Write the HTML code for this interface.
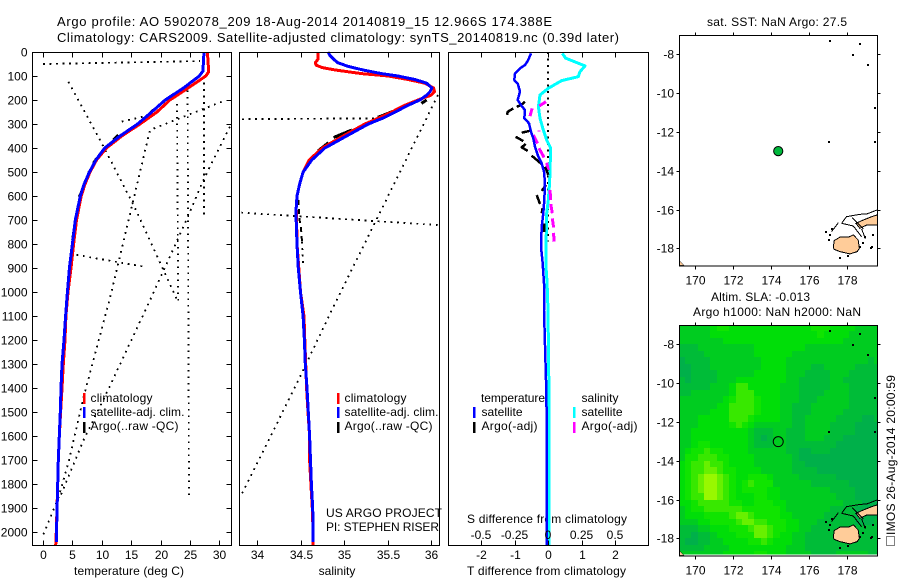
<!DOCTYPE html>
<html lang="en">
<head>
<meta charset="utf-8">
<title>Argo profile 5902078_209</title>
<style>
html,body{margin:0;padding:0;background:#fff;}
svg{display:block;}
text{font-family:"Liberation Sans",Arial,sans-serif;font-size:12px;fill:#000;}
.title{font-size:13px;}
</style>
</head>
<body>
<svg id="chart" width="900" height="580" viewBox="0 0 900 580" xmlns="http://www.w3.org/2000/svg">
<defs>
<clipPath id="clip-map-bottom"><rect x="679.5" y="325.5" width="198" height="229"/></clipPath>
</defs>
<text class="title" x="57" y="26" textLength="495">Argo profile: AO 5902078_209 18-Aug-2014 20140819_15 12.966S 174.388E</text>
<text class="title" x="57" y="42" textLength="562">Climatology: CARS2009. Satellite-adjusted climatology: synTS_20140819.nc (0.39d later)</text>

<text x="74" y="575" textLength="110">temperature (deg C)</text>
<text x="337" y="575" text-anchor="middle">salinity</text>
<text x="467" y="575" textLength="159">T difference from climatology</text>
<text x="467" y="523" textLength="160">S difference from climatology</text>

<text x="326" y="517" textLength="116">US ARGO PROJECT</text>
<text x="326" y="531" textLength="113">PI: STEPHEN RISER</text>

<text x="90.5" y="402" textLength="62">climatology</text>
<text x="90.5" y="416" textLength="94">satellite-adj. clim.</text>
<text x="90.5" y="430" textLength="88">Argo(..raw -QC)</text>
<text x="344.5" y="402" textLength="62">climatology</text>
<text x="344.5" y="416" textLength="94">satellite-adj. clim.</text>
<text x="344.5" y="430" textLength="88">Argo(..raw -QC)</text>

<text x="481" y="402" textLength="64">temperature</text>
<text x="481.5" y="416" textLength="41">satellite</text>
<text x="481.5" y="430" textLength="56">Argo(-adj)</text>
<text x="581.5" y="402" textLength="37">salinity</text>
<text x="581.5" y="416" textLength="41">satellite</text>
<text x="581.5" y="430" textLength="56">Argo(-adj)</text>

<text x="707" y="26" textLength="140">sat. SST: NaN Argo: 27.5</text>
<text x="711" y="301" textLength="99">Altim. SLA: -0.013</text>
<text x="693" y="316" textLength="168">Argo h1000: NaN h2000: NaN</text>

<rect x="886.5" y="536.5" width="8" height="9" fill="none" stroke="#000" stroke-width="1" stroke-dasharray="1 1" shape-rendering="crispEdges"/>
<text transform="translate(895,535) rotate(-90)" x="0" y="0" textLength="160">IMOS 26-Aug-2014 20:00:59</text>
</svg>

<script>
// ---------- depth axis ----------
const depthTicks = [0,100,200,300,400,500,600,700,800,900,1000,1100,1200,1300,1400,1500,1600,1700,1800,1900,2000];

// ---------- temperature panel ----------
const tempTicks = [0,5,10,15,20,25,30];
const climTempDepth = [0,82,100,150,200,250,300,350,400,450,500,550,600,700,800,900,1000,1100,1200,1300,1400,1500,1600,1700,1800,1900,2000,2054];
const climTempValue = [27.97,28.2,27.7,24.7,21.6,19.4,16.5,13.4,10.8,9.1,8.0,7.15,6.5,5.7,5.2,4.76,4.25,3.9,3.75,3.46,3.23,3.0,2.78,2.6,2.5,2.38,2.27,2.16];
const satTempDepth = [0,80,100,150,200,250,300,350,400,450,500,550,600,700,800,900,1000,1100,1200,1300,1400,1500,1600,1700,1800,1900,2000,2040];
const satTempValue = [27.4,27.2,26.6,23.9,20.8,18.5,16.1,13.1,10.5,9.0,7.9,7.0,6.35,5.5,5.0,4.5,4.15,3.85,3.57,3.23,3.06,2.95,2.78,2.6,2.5,2.4,2.3,2.3];
const argoTempDepth = [241,269,null,346,367,null,394,429,null,443,464,null,499,547,null,582,603,null,742,783];
const argoTempValue = [18.8,17.64,null,12.8,12.0,null,10.8,9.7,null,9.14,8.56,null,7.88,7.15,null,6.58,6.18,null,5.27,5.05];
const rawTempDepth = [50,38,null,100,690,null,207,325,1025,1436,1712,1858,2025,null,311,533,700,1019,1421,1616,1853,null,124,394,637,1026,1040,200,null,160,1858,null,845,894,null,290,270];
const rawTempValue = [0,26.7,null,27.4,27.4,null,30.4,18.2,11.4,6.9,4.3,2.6,-0.2,null,31.8,27.3,24.4,18.5,10.8,6.9,2.9,null,4.3,10.3,15.4,22.7,23,22.8,null,24.6,24.85,null,5.7,17.1,null,13.4,17];

// ---------- salinity panel ----------
const salTicks = [34,34.5,35,35.5,36];
const climSalDepth = [0,30,45,55,65,75,90,100,115,130,150,165,180,200,225,250,275,300,330,350,400,450,500,550,600,650,700,800,900,1000,1100,1200,1300,1400,1500,1600,1700,1800,1900,2000,2054];
const climSalValue = [34.705,34.7,34.67,34.68,34.75,34.9,35.2,35.51,35.74,35.93,36.03,36.04,36.0,35.85,35.68,35.55,35.4,35.24,35.09,34.99,34.75,34.6,34.53,34.49,34.46,34.45,34.455,34.46,34.48,34.5,34.54,34.55,34.56,34.57,34.586,34.605,34.605,34.62,34.636,34.645,34.645];
const satSalDepth = [0,15,30,45,60,75,90,100,115,130,150,165,180,200,225,250,275,300,330,350,400,450,500,550,600,650,700,800,900,1000,1100,1200,1300,1400,1500,1600,1700,1800,1900,2000,2040];
const satSalValue = [34.816,34.84,34.88,34.93,35.05,35.22,35.43,35.62,35.82,35.95,36.01,35.99,35.95,35.87,35.72,35.59,35.45,35.28,35.13,35.03,34.78,34.63,34.53,34.49,34.46,34.45,34.45,34.46,34.475,34.5,34.53,34.545,34.555,34.575,34.59,34.605,34.615,34.625,34.64,34.645,34.645];
const argoSalDepth = [200,214,null,239,272,null,325,356,null,378,411,null,429,464];
const argoSalValue = [35.95,35.89,null,35.62,35.39,null,35.09,34.88,null,34.82,34.705,null,34.67,34.59];
const argoSalDeepDepth = [617,700,728,790];
const argoSalDeepValue = [34.475,34.49,34.505,34.517];
const rawSalDepth = [280,276,null,669,721,null,179,1075,1379,1845,null,790,887];
const rawSalValue = [33.83,35.39,null,33.82,36.08,null,36.08,34.86,34.46,33.82,null,34.517,34.53];

// ---------- difference panel ----------
const diffTTicks = [-2,-1,0,1,2];
const diffSTicks = ["-0.5","-0.25","0","0.25","0.5"];
const diffTAxisValues = [-2,-1,0,1,2];
const satDiffTDepth = [6,33,54,68,89,117,131,165,200,221,242,276,297,332,360,394,429,464,499,547,617,672,728,811,881,964,1075,1366,1470,1480,2054];
const satDiffTValue = [-0.507,-0.587,-0.687,-0.836,-0.985,-1.005,-0.905,-0.836,-0.905,-0.806,-0.687,-0.706,-0.567,-0.507,-0.438,-0.388,-0.308,-0.189,-0.119,-0.09,-0.11,-0.14,-0.189,-0.21,-0.158,-0.119,-0.119,-0.06,-0.06,-0.04,-0.04];
const satDiffSDepth = [6,26,44,58,82,103,119,151,179,228,276,325,367,401,450,506,561,617,672,811,894,964,1075,1366,2054];
const satDiffSValue = [0.107,0.132,0.214,0.276,0.239,0.226,0.102,0.002,-0.06,-0.072,-0.06,-0.035,-0.01,0.02,0.017,0.015,0.01,0.002,-0.01,-0.015,-0.015,-0.007,0,0.006,0.006];
const argoDiffTDepth = [228,221,207,null,235,249,262,null,336,328,null,353,371,null,383,397,412,null,432,467,null,478,512,null,578,554,null,596,633,null,672,651,null,714,749];
const argoDiffTValue = [-0.935,-0.806,-0.687,null,-1.035,-1.204,-1.224,null,-0.786,-0.537,null,-0.965,-0.736,null,-0.667,-0.786,-0.607,null,-0.488,-0.189,null,-0.09,0.01,null,-0.189,-0.06,null,-0.338,-0.239,null,-0.189,-0.16,null,-0.119,-0.11];
const argoDiffSDepth = [225,207,null,267,235,null,326,331,null,346,381,null,401,439,null,461,492,null,575,617,null,633,672,null,693,731,null,753,790];
const argoDiffSValue = [-0.065,-0.015,null,-0.134,-0.119,null,-0.067,-0.067,null,-0.11,-0.077,null,-0.067,-0.03,null,-0.01,0.002,null,0.015,0.02,null,0.02,0.032,null,0.032,0.042,null,0.042,0.045];
const zeroLineDepth = [0,790];
const zeroLineValue = [0,0];

// ---------- maps ----------
const lonTicks = [170,172,174,176,178];
const latTicks = [-8,-10,-12,-14,-16,-18];
const floatLon = [174.388];
const floatLat = [-12.966];
const vitiLon = [177.3,177.355,177.65,178.1,178.36,178.62,178.68,178.57,178.18,177.65,177.34];
const vitiLat = [-17.91,-17.6,-17.43,-17.43,-17.31,-17.57,-18,-18.17,-18.29,-18.17,-18.05];
const vanuaLon = [178.5,178.89,179.33,179.63,179.63,179.07,178.71];
const vanuaLat = [-16.71,-16.54,-16.37,-16.28,-16.8,-16.8,-16.97];
const reefLon = [177.74,178.0,178.71,179.07,179.63,null,177.74,178.36,178.8,null,177.21,177.57,null,178.3,178.6,178.9,null,178.8,179.0];
const reefLat = [-16.71,-16.37,-16.25,-16.23,-16.02,null,-16.71,-16.85,-17.4,null,-17.14,-16.68,null,-16.42,-16.7,-17.0,null,-17.0,-17.5];
const isletLon = [177.14,178.71,178.36,179.15,179.5,177.07,179.5,176.9,177.14,177.65,179.38,179.29,178.1,178.71,178.98,177.25,177.05,178.85,179.35];
const isletLat = [-7.3,-7.48,-8.03,-8.55,-10.78,-12.5,-12.5,-17.14,-17.31,-18.5,-17.31,-18,-18.4,-17.91,-17.4,-17.0,-17.55,-17.75,-17.95];
const cornerLon = [169.17,169.4,169.17];
const cornerLat = [-18.65,-18.88,-18.88];

const slaPalette = ["#00a050","#00b04a","#00bc38","#00cc20","#00de08","#10e400","#38e800","#68f000","#98f800"];
const slaLevels = [
[3,3,3,3,3,4,5,5,4,4,4,4,4,4,4,4,4,4,4,4,4,5,5,5,4,4,4,4,3,3,3,3],
[3,3,3,3,3,4,4,4,4,4,4,4,4,4,4,4,4,4,4,4,4,4,5,4,4,4,4,3,3,3,3,3],
[3,3,3,3,3,3,3,4,4,4,4,4,4,4,4,4,4,4,4,4,4,4,4,4,4,4,3,3,3,3,3,3],
[2,2,2,3,3,3,3,3,3,3,3,3,4,4,4,4,4,4,4,4,3,3,3,3,3,3,3,3,3,3,3,3],
[2,2,2,2,3,3,3,3,3,3,3,3,4,4,4,4,4,4,3,3,3,3,3,3,3,3,3,3,3,3,3,3],
[1,2,2,2,2,3,3,3,3,3,3,3,3,4,4,4,4,3,3,3,3,3,3,3,3,3,3,3,3,3,2,3],
[1,1,2,2,2,3,3,3,3,3,3,3,3,4,4,4,4,3,3,3,3,2,2,3,3,3,3,3,2,2,2,2],
[1,1,2,2,2,2,3,3,3,3,3,3,4,4,4,4,4,3,3,3,2,2,2,2,3,3,3,2,2,2,2,2],
[2,1,2,2,2,2,3,3,3,4,4,4,4,4,4,4,4,3,3,2,2,2,2,2,3,3,2,2,2,2,2,2],
[2,2,2,2,2,3,3,3,4,6,6,4,4,4,4,4,3,3,3,2,2,2,2,2,3,3,3,2,2,2,2,2],
[2,2,3,3,3,3,3,3,4,6,6,6,4,4,4,4,3,3,3,2,2,2,2,3,3,3,3,2,2,2,2,2],
[3,3,3,3,3,3,3,4,5,6,6,6,5,4,4,4,3,3,3,2,2,2,3,3,3,3,3,2,2,2,2,2],
[3,3,3,3,3,3,4,4,6,6,6,6,5,4,4,4,3,3,2,2,2,3,3,3,3,3,3,2,2,2,2,2],
[3,3,3,3,3,4,4,4,6,6,6,6,5,4,4,4,3,3,2,2,2,3,3,3,3,3,2,2,2,2,2,2],
[3,3,3,4,4,4,4,4,6,6,6,5,4,4,4,4,3,3,2,2,3,3,3,3,3,2,2,2,2,1,1,2],
[3,3,3,4,4,4,4,4,5,6,5,4,3,3,3,3,3,3,2,2,3,3,3,3,2,2,2,2,1,1,1,1],
[3,3,4,4,4,4,4,4,4,4,4,3,2,2,2,3,3,2,2,2,3,3,3,3,2,2,2,2,1,1,1,1],
[3,3,4,4,4,4,4,4,4,4,4,3,2,1,2,3,3,2,2,2,3,3,3,2,2,2,1,1,1,1,1,1],
[3,3,4,5,5,4,4,4,4,4,4,3,2,2,2,3,3,2,2,2,2,2,2,2,2,1,1,1,1,1,1,1],
[3,4,5,5,6,5,5,4,4,4,4,3,3,3,3,3,3,2,2,1,1,2,2,2,1,1,1,1,1,1,1,1],
[3,5,5,6,6,6,5,5,4,4,4,4,3,3,3,3,3,3,2,1,1,1,1,1,1,1,1,1,1,1,1,1],
[4,5,6,6,7,6,6,5,4,4,4,4,3,3,3,3,3,3,2,2,1,1,1,1,1,1,1,1,1,1,1,1],
[4,5,6,6,7,7,6,5,5,4,4,4,4,3,3,3,3,3,2,2,2,2,1,1,1,1,1,1,1,1,1,1],
[4,5,6,7,8,8,7,6,5,4,4,5,5,5,4,3,3,3,3,2,2,2,2,2,2,1,1,1,1,1,1,1],
[4,5,6,7,8,8,7,6,5,4,5,6,5,5,5,3,3,3,3,3,3,2,2,2,2,2,2,1,1,1,1,1],
[4,5,6,7,8,8,7,6,5,4,5,5,5,5,4,4,3,3,3,3,3,3,3,3,2,2,2,2,1,1,1,1],
[4,5,6,6,8,8,7,6,5,4,4,4,5,5,4,4,3,3,3,3,3,3,3,3,3,2,2,2,1,1,1,1],
[4,4,5,6,6,6,6,6,5,5,4,4,5,5,5,4,4,3,3,3,3,3,3,3,3,3,2,2,2,1,1,1],
[3,4,5,5,6,6,6,6,6,6,5,5,5,5,5,5,4,3,3,3,3,3,3,3,2,2,2,2,1,1,1,1],
[3,4,4,4,5,5,5,5,6,7,7,6,5,5,5,5,4,4,3,3,3,3,3,2,2,2,2,2,1,1,1,1],
[3,3,3,4,4,5,5,5,5,6,7,7,6,6,5,5,5,4,4,3,3,3,2,2,2,2,2,2,1,1,1,2],
[2,2,2,3,3,4,4,4,5,5,5,6,7,7,6,5,5,4,4,3,3,2,2,2,2,2,2,2,2,2,2,2],
[2,2,1,2,2,3,4,4,4,5,5,5,7,7,6,5,4,4,3,3,2,2,2,2,2,2,2,2,2,2,2,2],
[2,1,1,2,2,3,3,4,4,4,4,5,5,6,5,4,4,4,3,3,2,2,2,2,2,2,2,2,2,2,2,2],
[2,2,2,2,3,3,3,3,4,4,4,4,4,4,4,4,4,3,3,3,2,2,2,2,2,2,2,2,2,2,2,2],
[3,3,3,3,3,3,3,4,4,4,4,4,5,5,4,4,4,3,3,3,3,2,2,2,2,3,3,3,3,3,2,2]
];
const slaLonStart = 169.13;
const slaLatStart = -7.0;
const slaCellDeg = 1 / 3;

// ---------- axis functions ----------
const PANEL_TOP = 52.5, PANEL_BOTTOM = 545.5;
const yDepth = d => 52 + 0.2401 * d;
const xTemp = t => 43 + 5.877 * t;
const xSal = s => 257 + 87 * (s - 34);
const xDiffT = v => 548 + 33.5 * v;
const xDiffS = v => 548 + 134 * v;
const xLon = lon => 695.3 + 18.9 * (lon - 170);
const yLat = (lat, top) => top + 19 + 19.4 * (-8 - lat);

const svg = document.getElementById('chart');
const NS = 'http://www.w3.org/2000/svg';
function mk(tag, attrs, parent) {
  const e = document.createElementNS(NS, tag);
  for (const k in attrs) e.setAttribute(k, attrs[k]);
  (parent || svg).appendChild(e);
  return e;
}
function tname(e, label) {
  
  
  return e;
}
function segments(depths, values, fx, fy) {
  const out = [];
  let cur = [];
  for (let i = 0; i < depths.length; i++) {
    if (depths[i] === null || values[i] === null) {
      if (cur.length) out.push(cur.join(' '));
      cur = [];
    } else {
      cur.push(fx(values[i]).toFixed(1) + ',' + fy(depths[i]).toFixed(1));
    }
  }
  if (cur.length) out.push(cur.join(' '));
  return out;
}
function series(depths, values, fx, color, width, dash, label) {
  const g = mk('g', {});
  
  
  segments(depths, values, fx, yDepth).forEach(pts => {
    const a = {points: pts, fill: 'none', stroke: color, 'stroke-width': width, 'shape-rendering': 'crispEdges', 'stroke-linejoin': 'round'};
    if (dash) a['stroke-dasharray'] = dash;
    mk('polyline', a, g);
  });
}
function hLine(x1, y1, x2, y2, label) {
  const e = mk('line', {x1: x1, y1: y1, x2: x2, y2: y2, stroke: '#000', 'stroke-width': 1, 'shape-rendering': 'crispEdges'});
  
  
}
function label(x, y, str, anchor, name) {
  const e = mk('text', {x: x, y: y, 'text-anchor': anchor});
  e.textContent = str;
  
  
}
function panelBox(x, w, name) {
  const e = mk('rect', {x: x, y: PANEL_TOP, width: w, height: PANEL_BOTTOM - PANEL_TOP, fill: 'none', stroke: '#000', 'stroke-width': 1, 'shape-rendering': 'crispEdges'});
  
  
}
function legendMark(x, y, color, name) {
  const e = mk('line', {x1: x, y1: y, x2: x, y2: y + 11, stroke: color, 'stroke-width': 2.5, 'shape-rendering': 'crispEdges'});
  
  
}

const DOTS = '1.8 4.7';

// ---------- temperature panel ----------
series(rawTempDepth, rawTempValue, xTemp, '#000', 1.8, DOTS, 'raw-temperature-dotted-line');
series(argoTempDepth, argoTempValue, xTemp, '#000', 3, null, 'argo-temperature-line');
series(climTempDepth, climTempValue, xTemp, '#ff0000', 3, null, 'climatology-temperature-line');
series(satTempDepth, satTempValue, xTemp, '#0000ff', 3, null, 'satellite-temperature-line');
panelBox(32.5, 199, 'temperature-panel-frame');
depthTicks.forEach(d => {
  const y = Math.round(yDepth(d)) + 0.5;
  hLine(32.5, y, 37.5, y, 'depth-tick-left');
  hLine(226.5, y, 231.5, y, 'depth-tick-right');
  label(27.5, y + 4, String(d), 'end', 'depth-tick-label');
});
tempTicks.forEach(t => {
  const x = Math.round(xTemp(t)) + 0.5;
  hLine(x, 52.5, x, 57.5, 'temperature-tick-top');
  hLine(x, 540.5, x, 545.5, 'temperature-tick-bottom');
  label(x, 559, String(t), 'middle', 'temperature-tick-label');
});
legendMark(84, 393, '#ff0000', 'legend-climatology-swatch');
legendMark(84, 407, '#0000ff', 'legend-satellite-swatch');
legendMark(84, 422, '#000000', 'legend-argo-swatch');

// ---------- salinity panel ----------
series(rawSalDepth, rawSalValue, xSal, '#000', 1.8, DOTS, 'raw-salinity-dotted-line');
series(argoSalDepth, argoSalValue, xSal, '#000', 3, null, 'argo-salinity-line');
series(argoSalDeepDepth, argoSalDeepValue, xSal, '#000', 2, '5 4', 'argo-salinity-deep-dashed-line');
series(climSalDepth, climSalValue, xSal, '#ff0000', 3, null, 'climatology-salinity-line');
series(satSalDepth, satSalValue, xSal, '#0000ff', 3, null, 'satellite-salinity-line');
panelBox(239.5, 200, 'salinity-panel-frame');
salTicks.forEach(s => {
  const x = Math.round(xSal(s)) + 0.5;
  hLine(x, 52.5, x, 57.5, 'salinity-tick-top');
  hLine(x, 540.5, x, 545.5, 'salinity-tick-bottom');
  label(x, 559, String(s), 'middle', 'salinity-tick-label');
});
legendMark(338, 393, '#ff0000', 'salinity-legend-climatology-swatch');
legendMark(338, 407, '#0000ff', 'salinity-legend-satellite-swatch');
legendMark(338, 422, '#000000', 'salinity-legend-argo-swatch');

// ---------- difference panel ----------
series(zeroLineDepth, zeroLineValue, xDiffT, '#000', 1.8, DOTS, 'zero-difference-dotted-line');
series(satDiffSDepth, satDiffSValue, xDiffS, '#00ffff', 3, null, 'satellite-salinity-difference-line');
series(argoDiffSDepth, argoDiffSValue, xDiffS, '#ff00ff', 3, null, 'argo-salinity-difference-line');
series(argoDiffTDepth, argoDiffTValue, xDiffT, '#000', 2.5, null, 'argo-temperature-difference-line');
series(satDiffTDepth, satDiffTValue, xDiffT, '#0000ff', 2.5, null, 'satellite-temperature-difference-line');
panelBox(448.5, 200, 'difference-panel-frame');
diffTTicks.forEach(v => {
  const x = Math.round(xDiffT(v)) + 0.5;
  hLine(x, 52.5, x, 57.5, 'difference-tick-top');
  hLine(x, 540.5, x, 545.5, 'difference-tick-bottom');
  label(x, 559, String(v), 'middle', 't-difference-tick-label');
});
diffSTicks.forEach((s, i) => {
  label(xDiffT(diffTAxisValues[i]), 539, s, 'middle', 's-difference-tick-label');
});
legendMark(474, 407, '#0000ff', 'diff-legend-t-satellite-swatch');
legendMark(474, 422, '#000000', 'diff-legend-t-argo-swatch');
legendMark(574, 407, '#00ffff', 'diff-legend-s-satellite-swatch');
legendMark(574, 422, '#ff00ff', 'diff-legend-s-argo-swatch');

// ---------- maps ----------
function polyPoints(lons, lats, top) {
  return lons.map((lon, i) => xLon(lon).toFixed(1) + ',' + yLat(lats[i], top).toFixed(1)).join(' ');
}
function drawCoast(top, parent) {
  const viti = mk('polygon', {points: polyPoints(vitiLon, vitiLat, top), fill: '#ffcc99', stroke: '#000', 'stroke-width': 1, 'shape-rendering': 'crispEdges'}, parent);
  
  
  const vanua = mk('polygon', {points: polyPoints(vanuaLon, vanuaLat, top), fill: '#ffcc99', stroke: '#000', 'stroke-width': 1, 'shape-rendering': 'crispEdges'}, parent);
  
  
  const corner = mk('polygon', {points: polyPoints(cornerLon, cornerLat, top), fill: '#ffcc99', stroke: '#000', 'stroke-width': 0.5}, parent);
  
  
  segments(reefLat, reefLon, xLon, lat => yLat(lat, top)).forEach(pts => {
    const reef = mk('polyline', {points: pts, fill: 'none', stroke: '#000', 'stroke-width': 1, 'shape-rendering': 'crispEdges'}, parent);
    
    
  });
  isletLon.forEach((lon, i) => {
    const islet = mk('rect', {x: Math.round(xLon(lon)) - 1, y: Math.round(yLat(isletLat[i], top)) - 1, width: 2, height: 2, fill: '#000', 'shape-rendering': 'crispEdges'}, parent);
    
    
  });
}
function drawMapFrame(top, prefix) {
  const f = mk('rect', {x: 679.5, y: top + 0.5 - 0.2, width: 198, height: 230.5, fill: 'none', stroke: '#000', 'stroke-width': 1, 'shape-rendering': 'crispEdges'});
  
  
  const bottom = top + 231;
  lonTicks.forEach(lon => {
    const x = Math.round(xLon(lon)) + 0.5;
    hLine(x, top - 3, x, top, prefix + '-lon-tick-top');
    hLine(x, bottom, x, bottom + 3, prefix + '-lon-tick-bottom');
    label(x, bottom + 18, String(lon), 'middle', prefix + '-lon-tick-label');
  });
  latTicks.forEach(lat => {
    const y = Math.round(yLat(lat, top)) + 0.5;
    hLine(676.5, y, 679.5, y, prefix + '-lat-tick-left');
    hLine(877.5, y, 880.5, y, prefix + '-lat-tick-right');
    label(674, y + 4, String(lat), 'end', prefix + '-lat-tick-label');
  });
}

// SST map
const TOP_A = 35.3;
const gA = tname(mk('g', {}), 'sst-map-coastline');
drawCoast(TOP_A, gA);
floatLon.forEach((lon, i) => {
  const m = mk('circle', {cx: xLon(lon), cy: yLat(floatLat[i], TOP_A) + 0.5, r: 4.6, fill: '#00b83c', stroke: '#000', 'stroke-width': 1});
  
  
});
drawMapFrame(TOP_A, 'sst');

// SLA map
const TOP_B = 325.3;
const gHeat = tname(mk('g', {'clip-path': 'url(#clip-map-bottom)'}), 'sla-heatmap');
slaLevels.forEach((row, r) => {
  row.forEach((level, c) => {
    const lonL = slaLonStart + c * slaCellDeg;
    const latT = slaLatStart - r * slaCellDeg;
    const x0 = Math.round(xLon(lonL));
    const x1 = Math.round(xLon(lonL + slaCellDeg));
    const y0 = Math.round(yLat(latT, TOP_B));
    const y1 = Math.round(yLat(latT - slaCellDeg, TOP_B));
    const cell = mk('rect', {x: x0, y: y0, width: x1 - x0, height: y1 - y0, fill: slaPalette[level], 'shape-rendering': 'crispEdges'}, gHeat);
    
    
  });
});
const gB = tname(mk('g', {}), 'sla-map-coastline');
drawCoast(TOP_B, gB);
floatLon.forEach((lon, i) => {
  const m = mk('circle', {cx: xLon(lon), cy: yLat(floatLat[i], TOP_B) + 1, r: 5, fill: 'none', stroke: '#000', 'stroke-width': 1});
  
  
});
drawMapFrame(TOP_B, 'sla');
</script>
</body>
</html>
